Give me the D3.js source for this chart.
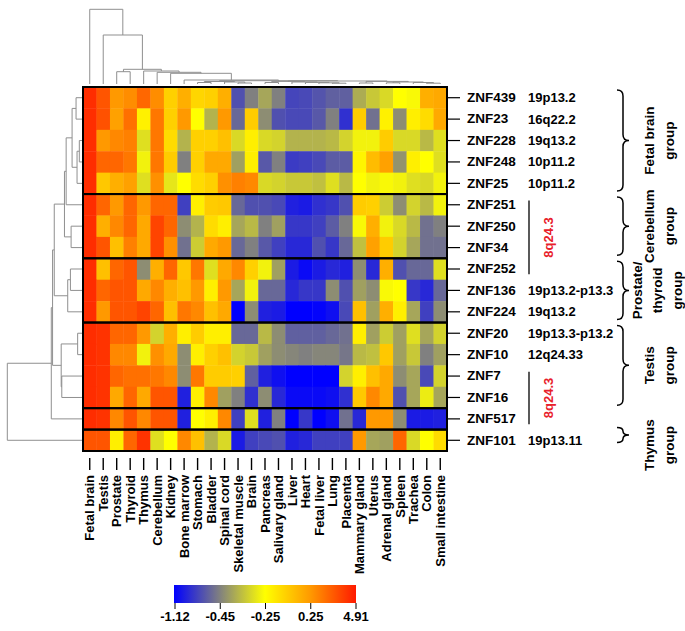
<!DOCTYPE html>
<html>
<head>
<meta charset="utf-8">
<script src="https://cdn.jsdelivr.net/npm/d3@7/dist/d3.min.js"></script>
<style>
  html, body { margin: 0; padding: 0; background: #fff; }
  svg { display: block; font-family: "Liberation Sans", Arial, sans-serif; }
  text { font-weight: bold; }
</style>
</head>
<body>
<svg id="chart" width="685" height="631"></svg>
<script>
// ---------------- DATA ----------------
const tissues = ["Fetal brain","Testis","Prostate","Thyroid","Thymus","Cerebellum","Kidney","Bone marrow","Stomach","Bladder","Spinal cord","Skeletal muscle","Brain","Pancreas","Salivary gland","Liver","Heart","Fetal liver","Lung","Placenta","Mammary gland","Uterus","Adrenal gland","Spleen","Trachea","Colon","Small intestine"];

const genes = ["ZNF439","ZNF23","ZNF228","ZNF248","ZNF25","ZNF251","ZNF250","ZNF34","ZNF252","ZNF136","ZNF224","ZNF20","ZNF10","ZNF7","ZNF16","ZNF517","ZNF101"];

const loci = ["19p13.2","16q22.2","19q13.2","10p11.2","10p11.2","","","","","19p13.2-p13.3","19q13.2","19p13.3-p13.2","12q24.33","","","","19p13.11"];

// expression values, one row per gene, columns follow `tissues`
const expr = [
  [4.2,2.74,0.25,0.7,2.1,0.7,-0.02,0.14,-0.05,-0.02,0.14,-0.70,-0.45,-0.39,-0.45,-0.76,-0.74,-0.68,-0.62,-0.62,-0.38,-0.336,-0.31,-0.25,-0.26,0.14,0.17],
  [4.2,2.9,0.21,1.75,-0.18,1.5,-0.02,0.25,-0.25,-0.37,0.25,-0.575,0.0,-0.43,-0.70,-0.74,-0.74,-0.66,-0.45,-0.87,0.0,-0.53,-0.18,-0.43,-0.17,-0.08,0.17],
  [4.2,0.25,0.87,1.17,-0.30,1.5,-0.08,-0.37,-0.02,-0.02,0.06,-0.31,-0.17,-0.31,-0.32,-0.37,-0.37,-0.37,-0.36,-0.32,-0.27,-0.27,0.0,-0.31,-0.31,-0.36,-0.30],
  [4.2,2.12,2.12,1.5,-0.27,1.5,0.0,-0.45,-0.02,0.17,0.17,-0.40,-0.17,-0.66,-0.45,-0.81,-0.785,-0.74,-0.64,-0.64,-0.2,0.08,0.21,-0.42,-0.17,-0.25,-0.30],
  [4.2,0.02,0.14,0.21,-0.30,0.58,-0.29,-0.25,-0.08,-0.02,0.58,1.17,0.87,-0.31,-0.32,-0.336,-0.336,-0.35,-0.30,-0.36,-0.25,-0.27,-0.26,-0.27,-0.30,-0.31,-0.27],
  [4.2,2.12,0.25,2.12,0.25,2.12,2.12,-0.785,-0.17,0.0,0.02,-0.575,-0.70,-0.70,-0.74,-0.95,-0.98,-0.87,-0.83,-0.70,0.0,-0.02,-0.33,-0.43,-0.32,-0.36,-0.27],
  [4.2,0.14,0.87,2.12,0.17,3.37,2.12,-0.43,-0.37,-0.08,-0.17,-0.39,-0.36,-0.45,-0.40,-0.83,-0.83,-0.785,-0.64,-0.45,-0.26,0.14,-0.27,-0.31,-0.36,-0.53,-0.45],
  [4.2,2.74,0.06,1.17,0.17,3.37,0.58,-0.53,-0.33,0.17,0.25,-0.575,-0.45,-0.66,-0.785,-0.91,-0.91,-0.70,-0.83,-0.575,-0.35,0.21,0.0,-0.32,-0.39,-0.53,-0.53],
  [4.2,0.06,2.12,2.74,-0.43,0.14,2.12,0.02,1.5,-0.30,0.17,0.87,-0.02,-0.27,-0.40,-0.98,-1.07,-0.98,-0.91,-0.95,-0.43,-0.91,0.14,-0.70,-0.575,-0.575,-0.30],
  [4.2,2.12,2.74,2.74,0.17,0.87,0.14,0.06,0.25,-0.17,0.25,-0.39,-0.27,-0.575,-0.575,-0.91,-0.83,-0.83,-0.43,-0.70,-0.40,-0.43,-0.26,-0.25,-0.83,-0.91,-0.575],
  [4.2,0.25,2.74,2.74,3.37,2.12,0.06,1.5,0.87,0.06,0.17,-1.12,-0.43,-0.95,-0.98,-1.12,-1.12,-1.10,-1.04,-0.74,0.06,-0.40,0.14,-0.17,-0.39,-0.785,-0.43],
  [4.2,4.0,2.12,2.12,0.25,-0.32,0.14,-0.17,0.0,-0.17,-0.17,-0.575,-0.575,-0.36,-0.43,-0.62,-0.62,-0.62,-0.575,-0.53,-0.17,-0.40,-0.33,-0.40,-0.30,-0.39,-0.32],
  [4.2,4.0,0.87,0.87,-0.27,0.58,0.17,-0.43,-0.17,-0.02,0.06,-0.32,-0.336,-0.40,-0.43,-0.44,-0.45,-0.44,-0.44,-0.50,-0.36,-0.35,0.02,-0.40,-0.336,-0.45,-0.40],
  [4.2,4.0,2.12,1.75,1.75,1.5,0.87,-0.43,1.5,0.0,0.0,-0.02,-0.62,-0.95,-1.04,-1.12,-1.12,-1.12,-1.12,-0.32,-0.17,0.06,0.17,-0.43,-0.39,-0.74,-0.32],
  [4.2,4.0,0.17,2.12,0.17,2.74,2.74,-0.95,-0.17,0.87,-0.40,-0.45,-0.87,-0.43,-0.91,-1.07,-1.07,-1.07,-1.04,-0.87,0.02,0.87,0.17,-0.70,-0.39,-0.28,-0.39],
  [4.2,4.0,0.87,2.74,0.87,2.74,2.74,-0.95,-0.25,-0.17,0.87,-0.785,-0.30,-0.95,-0.45,-1.12,-0.83,-1.12,-1.04,-0.53,-0.91,0.25,0.25,-0.43,-0.98,-0.98,-0.95],
  [2.74,2.74,-0.17,2.12,3.98,-0.30,-0.25,0.87,0.06,-0.37,-0.31,-0.98,-0.785,-0.74,-0.70,-0.95,-0.91,-0.785,-0.785,-0.785,0.25,-0.39,-0.40,2.12,-0.31,-0.25,-0.08]
];

const legendTicks = [-1.12, -0.45, -0.25, 0.25, 4.91];
const legendLabels = ["-1.12", "-0.45", "-0.25", "0.25", "4.91"];
const legendColors = ["#0000ff", "#808080", "#ffff00", "#ff9900", "#ff1a00"];

// boxed groups of genes (first, last)
const boxGroups = [["ZNF439","ZNF25"],["ZNF251","ZNF34"],["ZNF252","ZNF224"],["ZNF20","ZNF16"],["ZNF517","ZNF517"],["ZNF101","ZNF101"]];

// tissue-group braces (first gene, last gene, label lines)
const braceGroups = [
  {from:"ZNF439", to:"ZNF25",  lines:["Fetal brain","group"]},
  {from:"ZNF251", to:"ZNF34",  lines:["Cerebellum","group"]},
  {from:"ZNF252", to:"ZNF224", lines:["Prostate/","thyroid","group"]},
  {from:"ZNF20",  to:"ZNF16",  lines:["Testis","group"]},
  {from:"ZNF101", to:"ZNF101", lines:["Thymus","group"]}
];

// 8q24.3 cluster markers (first gene, last gene)
const redLoci = [["ZNF251","ZNF252"],["ZNF7","ZNF517"]];
const redLabel = "8q24.3";

// column dendrogram: [left, right, height]; leaves are tissue indices
const colTree = [0, [1, [[2,3,12.3], [4, [5, [6, [7,
  [[[8,9,1.5],[10,[11,12,1.0],2.0],2.5],
   [[[13,14,1.5],[15,[16,[17,[18,19,0.8],1.2],1.6],2.0],2.6],
    [[20,21,1.0],[[22,23,1.2],[24,[25,26,0.8],1.5],2.0],2.6],3.0],3.3],
  4.0], 10.7], 11.7], 13.0], 14.7], 49.0], 74.7];

// row dendrogram: [left, right, height]; leaves are gene indices
const rowTree = [[[[[[[[0,1,6],[[2,3,2.7],4,5],10],5,16],[6,7,11],17.7],[[8,9,11.7],10,14.4],28],
  [[11,12,4.4],[13,14,20.4],21],29.7],15,31],16,75.4];

// ---------------- LAYOUT ----------------
const svg = d3.select("#chart");
const hmLeft = 83, hmRight = 447, hmTop = 87, hmBottom = 451;

const x = d3.scaleBand().domain(tissues).range([hmLeft, hmRight]);
const y = d3.scaleBand().domain(genes).range([hmTop, hmBottom]);
const color = d3.scaleLinear().domain(legendTicks).range(legendColors).clamp(true);

// heatmap cells
const cells = [];
expr.forEach((row, i) => row.forEach((v, j) => cells.push({g: genes[i], t: tissues[j], v})));
svg.append("g").selectAll("rect").data(cells).join("rect")
  .attr("x", d => x(d.t))
  .attr("y", d => y(d.g))
  .attr("width", x.bandwidth() + 0.4)
  .attr("height", y.bandwidth() + 0.4)
  .attr("fill", d => color(d.v));

// group boxes
svg.append("g").selectAll("rect").data(boxGroups).join("rect")
  .attr("x", hmLeft)
  .attr("y", d => y(d[0]))
  .attr("width", hmRight - hmLeft)
  .attr("height", d => y(d[1]) + y.bandwidth() - y(d[0]))
  .attr("fill", "none")
  .attr("stroke", "#000")
  .attr("stroke-width", 2);

// ---------------- DENDROGRAMS ----------------
const dendroColor = "#8f8f8f";
const colH = d3.scaleLinear().domain([0, 74.7]).range([84, 9.3]);
const rowH = d3.scaleLinear().domain([0, 75.4]).range([82, 7.3]);
const colG = svg.append("g").attr("fill", "none").attr("stroke", dendroColor).attr("stroke-width", 1);
const rowG = svg.append("g").attr("fill", "none").attr("stroke", dendroColor).attr("stroke-width", 1);

function drawTop(node) {
  if (typeof node === "number") return {p: x(tissues[node]) + x.bandwidth() / 2, h: 0};
  const a = drawTop(node[0]), b = drawTop(node[1]), h = node[2];
  colG.append("path").attr("d", `M${a.p},${colH(a.h)}V${colH(h)}H${b.p}V${colH(b.h)}`);
  return {p: (a.p + b.p) / 2, h};
}
function drawLeft(node) {
  if (typeof node === "number") return {p: y(genes[node]) + y.bandwidth() / 2, h: 0};
  const a = drawLeft(node[0]), b = drawLeft(node[1]), h = node[2];
  rowG.append("path").attr("d", `M${rowH(a.h)},${a.p}H${rowH(h)}V${b.p}H${rowH(b.h)}`);
  return {p: (a.p + b.p) / 2, h};
}
drawTop(colTree);
drawLeft(rowTree);

// ---------------- AXES ----------------
const ff = "'Liberation Sans', Arial, sans-serif";
const bottomAxis = svg.append("g")
  .attr("transform", `translate(0,${458})`)
  .call(d3.axisBottom(x).tickSize(12).tickSizeOuter(0));
bottomAxis.select(".domain").remove();
bottomAxis.selectAll(".tick line").attr("stroke", "#000").attr("stroke-width", 1.4);
bottomAxis.selectAll(".tick text")
  .attr("transform", "rotate(-90)")
  .attr("x", -17).attr("y", 0).attr("dy", "0.36em")
  .attr("text-anchor", "end")
  .style("font-size", "13px").style("font-family", ff).style("font-weight", "bold")
  .attr("fill", "#000");

const rightAxis = svg.append("g")
  .attr("transform", `translate(${hmRight},0)`)
  .call(d3.axisRight(y).tickSize(13).tickPadding(7).tickSizeOuter(0));
rightAxis.select(".domain").remove();
rightAxis.selectAll(".tick line").attr("stroke", "#000").attr("stroke-width", 1.2);
rightAxis.selectAll(".tick text")
  .style("font-size", "13.5px").style("font-family", ff).style("font-weight", "bold")
  .attr("fill", "#000");

// loci
svg.append("g").selectAll("text").data(genes.map((g, i) => ({g, l: loci[i]})).filter(d => d.l)).join("text")
  .attr("x", 528)
  .attr("y", d => y(d.g) + y.bandwidth() / 2)
  .attr("dy", "0.35em")
  .style("font-size", "13px")
  .text(d => d.l);

// red 8q24.3 markers
const redG = svg.append("g");
redLoci.forEach(([a, b]) => {
  const y0 = y(a) + y.bandwidth() * 0.3, y1 = y(b) + y.bandwidth() * 0.75;
  redG.append("line").attr("x1", 529).attr("x2", 529).attr("y1", y0).attr("y2", y1)
    .attr("stroke", "#000").attr("stroke-width", 1.3);
  redG.append("text")
    .attr("transform", `translate(548,${(y0 + y1) / 2}) rotate(-90)`)
    .attr("text-anchor", "middle").attr("dy", "0.35em")
    .attr("fill", "#e8202a").style("font-size", "13px")
    .text(redLabel);
});

// braces + group labels
function bracePath(x0, y0, y1, w) {
  const m = (y0 + y1) / 2, r = Math.min(w / 2, (y1 - y0) / 4);
  const xm = x0 + w / 2;
  return `M${x0},${y0}Q${xm},${y0} ${xm},${y0 + r}L${xm},${m - r}Q${xm},${m} ${x0 + w},${m}` +
         `Q${xm},${m} ${xm},${m + r}L${xm},${y1 - r}Q${xm},${y1} ${x0},${y1}`;
}
const braceG = svg.append("g");
braceGroups.forEach(gr => {
  let y0 = y(gr.from) + 3, y1 = y(gr.to) + y.bandwidth() - 3;
  if (gr.from === gr.to) { y0 = y(gr.from) - 2; y1 = y(gr.from) + y.bandwidth() * 0.6; }
  braceG.append("path").attr("d", bracePath(617, y0, y1, 12))
    .attr("fill", "none").attr("stroke", "#000").attr("stroke-width", 1.5);
  const n = gr.lines.length;
  const cy = gr.from === gr.to ? (y0 + y1) / 2 + 10 : (y0 + y1) / 2;
  const x0 = n === 3 ? 637 : 649;
  gr.lines.forEach((t, k) => {
    braceG.append("text")
      .attr("transform", `translate(${x0 + k * 20},${cy}) rotate(-90)`)
      .attr("text-anchor", "middle").attr("dy", "0.35em")
      .style("font-size", "13.5px")
      .text(t);
  });
});

// ---------------- LEGEND ----------------
const legX0 = 174, legX1 = 356, legY = 585, legH = 18;
const defs = svg.append("defs");
const grad = defs.append("linearGradient").attr("id", "legGrad").attr("x1", "0%").attr("x2", "100%");
legendColors.forEach((c, i) => grad.append("stop").attr("offset", (i / (legendColors.length - 1) * 100) + "%").attr("stop-color", c));
svg.append("rect").attr("x", legX0).attr("y", legY).attr("width", legX1 - legX0).attr("height", legH)
  .attr("fill", "url(#legGrad)");
const legScale = d3.scalePoint().domain(legendLabels).range([legX0 + 0.5, legX1 - 0.5]);
const legAxis = svg.append("g").attr("transform", `translate(0,${legY + legH})`)
  .call(d3.axisBottom(legScale).tickSize(6).tickPadding(3).tickSizeOuter(0));
legAxis.select(".domain").remove();
legAxis.selectAll(".tick line").attr("stroke", "#000");
legAxis.selectAll(".tick text")
  .style("font-size", "13px").style("font-family", ff).style("font-weight", "bold")
  .attr("fill", "#000");
</script>
</body>
</html>
